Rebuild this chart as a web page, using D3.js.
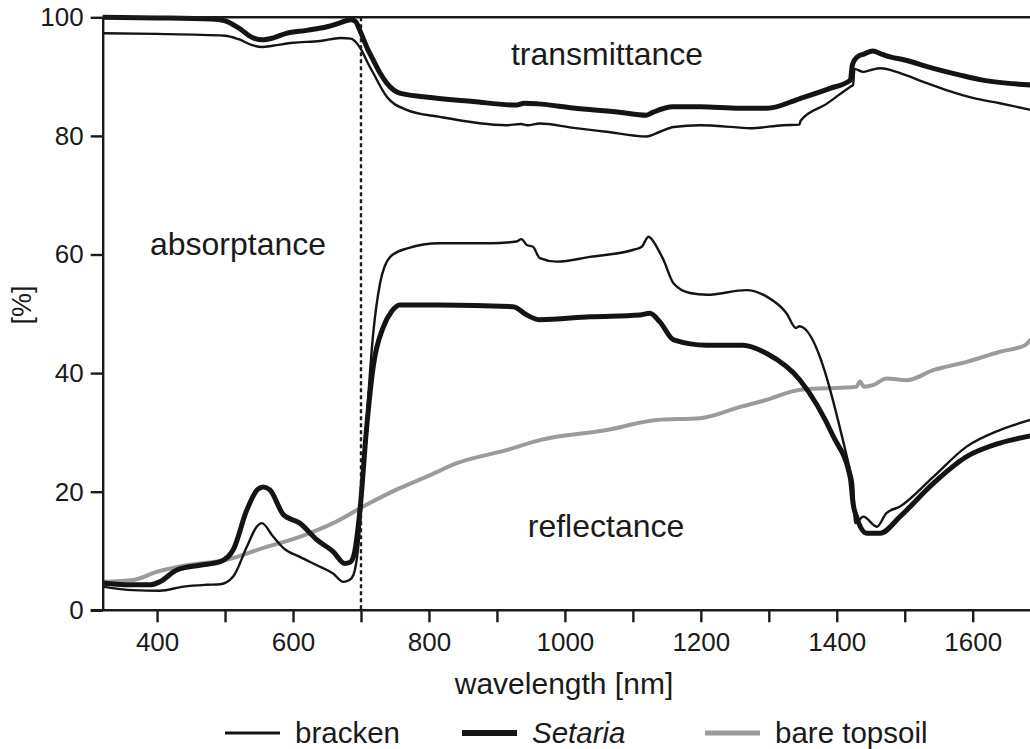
<!DOCTYPE html>
<html>
<head>
<meta charset="utf-8">
<script src="https://cdn.jsdelivr.net/npm/d3@7"></script>
<style>
  html, body { margin: 0; padding: 0; background: #fff; }
  svg { display: block; font-family: "Liberation Sans", Arial, sans-serif; }
</style>
</head>
<body>
<svg id="chart" width="1030" height="749"></svg>
<script>
// ---- data (wavelength nm, percent) ----
const xTicks = [400, 500, 600, 700, 800, 900, 1000, 1100, 1200, 1300, 1400, 1500, 1600];
const xTickLabels = ["400", "", "600", "", "800", "", "1000", "", "1200", "", "1400", "", "1600"];
const yTicks = [0, 20, 40, 60, 80, 100];
const redEdge = 700;

const setariaT = [
  [320, 100], [400, 99.9], [480, 99.7], [500, 99.4], [520, 98.2], [540, 96.6], [555, 96.2], [570, 96.5],
  [590, 97.3], [620, 97.8], [650, 98.4], [670, 99.1], [685, 99.6], [692, 99.3], [699, 97.6], [710, 94.6],
  [718, 92.8], [728, 90.6], [738, 88.9], [757, 87.2], [792, 86.6], [865, 85.8], [929, 85.2], [940, 85.5],
  [960, 85.4], [1012, 84.7], [1080, 84.0], [1120, 83.5], [1130, 84.0], [1159, 84.9], [1199, 84.9],
  [1257, 84.65], [1297, 84.65], [1346, 86.3], [1390, 88.0], [1420, 89.4], [1423, 92.0], [1430, 93.3],
  [1440, 93.8], [1453, 94.3], [1466, 93.8], [1473, 93.5], [1500, 92.8], [1542, 91.4], [1580, 90.3],
  [1615, 89.4], [1650, 88.9], [1685, 88.6]
];
const brackenT = [
  [320, 97.3], [400, 97.2], [500, 96.9], [520, 96.3], [540, 95.3], [555, 95.0], [570, 95.2], [600, 95.7],
  [640, 96.0], [670, 96.5], [685, 96.4], [699, 94.8], [710, 92.3], [718, 90.6], [738, 86.6], [767, 84.4],
  [816, 83.2], [914, 81.8], [935, 82.0], [945, 81.8], [963, 82.1], [1010, 81.4], [1061, 80.7],
  [1120, 79.9], [1140, 80.7], [1160, 81.5], [1199, 81.8], [1257, 81.4], [1272, 81.3], [1321, 81.8],
  [1345, 81.9], [1347, 82.6], [1385, 85.4], [1420, 88.3], [1424, 88.6], [1426, 91.3], [1439, 90.8],
  [1450, 91.1], [1464, 91.4], [1493, 90.6], [1530, 89.0], [1567, 87.5], [1600, 86.4], [1640, 85.5], [1685, 84.4]
];
const setariaR = [
  [320, 4.6], [340, 4.4], [365, 4.3], [390, 4.3], [404, 4.8], [429, 6.8], [463, 7.6], [493, 8.2],
  [512, 10.2], [532, 16.9], [548, 20.4], [556, 20.8], [566, 20.3], [586, 16.1], [610, 14.7], [635, 11.9],
  [659, 9.9], [676, 7.9], [684, 8.1], [690, 9.5], [699, 17.5], [708, 30.4], [718, 41.1], [733, 47.8],
  [745, 50.4], [757, 51.5], [816, 51.5], [924, 51.2], [944, 49.8], [963, 49.0], [1037, 49.5],
  [1110, 49.8], [1125, 50.1], [1140, 48.6], [1160, 45.6], [1209, 44.7], [1262, 44.7], [1297, 43.3],
  [1346, 38.8], [1395, 29.3], [1420, 22.3], [1424, 18.0], [1429, 15.8], [1444, 13.0], [1464, 13.0],
  [1493, 15.8], [1542, 21.4], [1591, 25.9], [1640, 28.2], [1685, 29.4]
];
const brackenR = [
  [320, 4.0], [365, 3.4], [404, 3.3], [439, 4.0], [473, 4.3], [493, 4.4], [512, 5.7], [532, 10.7],
  [546, 14.0], [554, 14.7], [571, 12.4], [586, 10.5], [610, 9.0], [635, 7.6], [659, 6.2], [674, 4.8],
  [683, 5.1], [689, 6.0], [696, 10.7], [707, 30.0], [718, 46.7], [728, 55.1], [743, 59.6], [767, 61.0],
  [816, 61.9], [890, 61.9], [929, 62.2], [936, 62.6], [944, 61.6], [953, 61.3], [963, 59.4], [988, 58.8],
  [1037, 59.6], [1101, 60.8], [1113, 61.3], [1123, 63.0], [1135, 61.3], [1145, 59.1], [1160, 55.1],
  [1184, 53.5], [1209, 53.2], [1267, 54.0], [1297, 52.9], [1326, 50.1], [1340, 47.6], [1345, 47.9],
  [1420, 23.4], [1424, 21.4], [1427, 14.7], [1439, 15.8], [1459, 14.1], [1473, 16.4], [1493, 17.5],
  [1542, 22.5], [1591, 27.6], [1640, 30.4], [1685, 32.1]
];
const topsoilR = [
  [320, 4.8], [365, 5.1], [400, 6.5], [444, 7.6], [502, 8.5], [561, 10.7], [610, 12.4], [659, 14.7],
  [708, 17.8], [757, 20.6], [800, 22.7], [841, 24.8], [914, 27.0], [963, 28.7], [1062, 30.4],
  [1135, 32.1], [1199, 32.4], [1258, 34.3], [1297, 35.5], [1346, 37.2], [1429, 37.7], [1434, 38.6],
  [1440, 37.7], [1454, 38.0], [1473, 39.1], [1503, 38.8], [1542, 40.5], [1591, 41.9], [1640, 43.6],
  [1677, 44.7], [1685, 45.6]
];

const series = [
  { name: "bracken", italic: false, color: "#141414", width: 2.4, curves: [brackenT, brackenR] },
  { name: "Setaria", italic: true, color: "#141414", width: 5, curves: [setariaT, setariaR] },
  { name: "bare topsoil", italic: false, color: "#9b9b9b", width: 4, curves: [topsoilR] }
];

// ---- layout ----
const svg = d3.select("#chart");
const x = d3.scaleLinear().domain([320, 1700]).range([102.7, 102.7 + 1380 * 0.6797]);
const y = d3.scaleLinear().domain([0, 100]).range([610.3, 17.3]);
const axisColor = "#1a1a1a";
const font = "'Liberation Sans', Arial, sans-serif";

svg.append("rect").attr("width", 1030).attr("height", 749).attr("fill", "#fff");

svg.append("defs").append("clipPath").attr("id", "plotclip")
  .append("rect").attr("x", 102.7).attr("y", 0).attr("width", 1030 - 102.7).attr("height", 612);

const line = d3.line().x(d => x(d[0])).y(d => y(d[1])).curve(d3.curveMonotoneX);
const plot = svg.append("g").attr("clip-path", "url(#plotclip)");

[series[2], series[1], series[0]].forEach(s => {
  s.curves.forEach(c => {
    plot.append("path").datum(c)
      .attr("d", line)
      .attr("fill", "none")
      .attr("stroke", s.color)
      .attr("stroke-width", s.width)
      .attr("stroke-linejoin", "round")
      .attr("stroke-linecap", "round");
  });
});

// dotted red-edge line
svg.append("line")
  .attr("x1", x(redEdge)).attr("x2", x(redEdge))
  .attr("y1", y(100)).attr("y2", y(0))
  .attr("stroke", axisColor).attr("stroke-width", 2.4)
  .attr("stroke-dasharray", "4,3");

// top frame line
svg.append("line")
  .attr("x1", x(320)).attr("x2", 1030)
  .attr("y1", y(100)).attr("y2", y(100))
  .attr("stroke", axisColor).attr("stroke-width", 2.4);

// x axis
const xAxis = d3.axisBottom(x).tickValues(xTicks)
  .tickFormat((d, i) => xTickLabels[i]).tickSize(12).tickPadding(10).tickSizeOuter(0);
const gx = svg.append("g").attr("transform", `translate(0,${y(0)})`).call(xAxis);
gx.select(".domain").attr("d", `M${x(320) - 12},0H1030`).attr("stroke", axisColor).attr("stroke-width", 2.4);
gx.selectAll(".tick line").attr("stroke", axisColor).attr("stroke-width", 2.4);
gx.selectAll(".tick text").attr("fill", "#1a1a1a").style("font-size", "26px").style("font-family", font);

// y axis
const yAxis = d3.axisLeft(y).tickValues(yTicks).tickSize(12).tickPadding(7).tickSizeOuter(0);
const gy = svg.append("g").attr("transform", `translate(${x(320)},0)`).call(yAxis);
gy.select(".domain").attr("stroke", axisColor).attr("stroke-width", 2.4);
gy.selectAll(".tick line").attr("stroke", axisColor).attr("stroke-width", 2.4);
gy.selectAll(".tick text").attr("fill", "#1a1a1a").style("font-size", "26px").style("font-family", font);

// axis titles
svg.append("text").attr("x", 564).attr("y", 694).attr("text-anchor", "middle")
  .attr("fill", "#1a1a1a").style("font-size", "30px").text("wavelength [nm]");
svg.append("text").attr("transform", "translate(31,305) rotate(-90)").attr("text-anchor", "middle")
  .attr("fill", "#1a1a1a").style("font-size", "27px").text("[%]");

// region annotations
const notes = [
  { t: "transmittance", x: 607, y: 65 },
  { t: "absorptance", x: 238, y: 255 },
  { t: "reflectance", x: 606, y: 537 }
];
notes.forEach(n => svg.append("text").attr("x", n.x).attr("y", n.y).attr("text-anchor", "middle")
  .attr("fill", "#1a1a1a").style("font-size", "32px").text(n.t));

// legend
const legendX = [225, 462, 705];
const lg = svg.append("g");
series.forEach((s, i) => {
  lg.append("line").attr("x1", legendX[i]).attr("x2", legendX[i] + 55)
    .attr("y1", 733).attr("y2", 733)
    .attr("stroke", s.color).attr("stroke-width", s.width + 0.8);
  lg.append("text").attr("x", legendX[i] + 70).attr("y", 743)
    .attr("fill", "#1a1a1a").style("font-size", "29.5px")
    .style("font-style", s.italic ? "italic" : "normal").text(s.name);
});
</script>
</body>
</html>
